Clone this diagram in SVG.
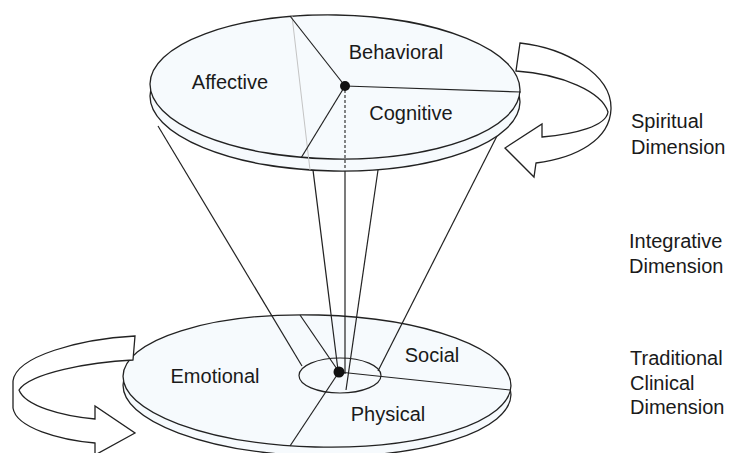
<svg xmlns="http://www.w3.org/2000/svg" width="731" height="453" viewBox="0 0 731 453">
<defs>
<style>
.disk{fill:#f6fafd;stroke:#222;stroke-width:1.3}
.ln{stroke:#222;stroke-width:1.2;fill:none}
.faint{stroke:#c4c4c4;stroke-width:1;fill:none}
.dash{stroke:#222;stroke-width:1.1;stroke-dasharray:3 2;fill:none}
.arrow{fill:#fff;stroke:#222;stroke-width:1.3;stroke-linejoin:miter}
.lbl{font-family:"Liberation Sans",Arial,sans-serif;font-size:20px;fill:#1a1a1a}
.mid{text-anchor:middle}
</style>
</defs>
<rect width="731" height="453" fill="#fff"/>

<g id="clinical-disk">
<ellipse class="disk" cx="317" cy="390" rx="194" ry="66" transform="rotate(1.5 317 390)"/>
<ellipse class="disk" cx="317" cy="381" rx="194" ry="66" transform="rotate(1.5 317 381)"/>
<line class="ln" x1="339" y1="372" x2="300" y2="315"/>
<line class="ln" x1="339" y1="372" x2="510" y2="390"/>
<line class="ln" x1="339" y1="372" x2="290" y2="446"/>
<text class="lbl mid" x="215" y="383">Emotional</text>
<text class="lbl mid" x="432" y="362">Social</text>
<text class="lbl mid" x="388" y="421">Physical</text>
</g>

<g id="connectors">
<line class="ln" x1="158" y1="126" x2="302" y2="366"/>
<line class="ln" x1="499" y1="132" x2="378" y2="371"/>
<line class="ln" x1="313" y1="170" x2="338" y2="370"/>
<line class="ln" x1="378" y1="170" x2="346" y2="390"/>
<line class="ln" x1="345" y1="170" x2="345" y2="374"/>
</g>

<g id="clinical-hub">
<ellipse class="ln" cx="340" cy="375.5" rx="41" ry="17.5"/>
<circle cx="339" cy="372" r="5.5" fill="#111"/>
</g>

<g id="spiritual-disk">
<ellipse class="disk" cx="335" cy="99" rx="185" ry="72" transform="rotate(1 335 99)"/>
<ellipse class="disk" cx="335" cy="87" rx="185" ry="72" transform="rotate(1 335 87)"/>
<line class="faint" x1="292" y1="16" x2="310" y2="170"/>
<line class="ln" x1="345" y1="86" x2="290" y2="16"/>
<line class="ln" x1="345" y1="86" x2="521" y2="92"/>
<line class="ln" x1="345" y1="86" x2="301" y2="158"/>
<line class="dash" x1="345" y1="90" x2="345" y2="170"/>
<circle cx="345" cy="86" r="5" fill="#111"/>
<text class="lbl mid" x="230" y="89">Affective</text>
<text class="lbl mid" x="396" y="59">Behavioral</text>
<text class="lbl mid" x="411" y="120">Cognitive</text>
</g>

<g id="spiritual-arrow">
<path class="arrow" d="M520,43 C565,48 612,74 611,109 C610,140 576,158 536,163 L534,177 L505,148 L542,124 L542,137 C576,134 606,126 608,112 C602,92 562,74 516,71 Z"/>
</g>

<g id="clinical-arrow">
<path class="arrow" d="M135,336 C80,339 16,356 13,381 L13,408 C16,428 60,440 95,443 L95,455 L135,433 L95,406 L95,419 C62,416 25,406 19,390 C30,373 90,362 133,360 Z"/>
</g>

<g id="labels">
<text class="lbl" x="631" y="128">Spiritual</text>
<text class="lbl" x="631" y="154">Dimension</text>
<text class="lbl" x="629" y="248">Integrative</text>
<text class="lbl" x="629" y="273">Dimension</text>
<text class="lbl" x="630" y="365">Traditional</text>
<text class="lbl" x="630" y="390">Clinical</text>
<text class="lbl" x="630" y="414">Dimension</text>
</g>
</svg>
